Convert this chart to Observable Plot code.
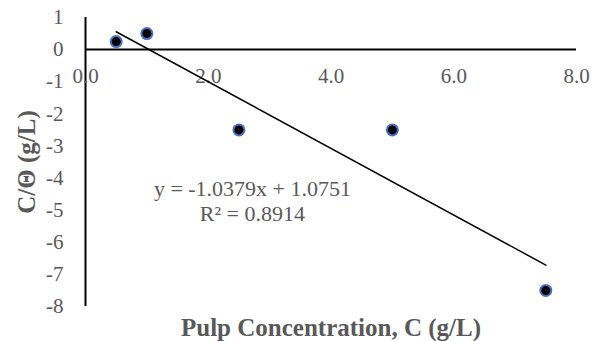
<!DOCTYPE html>
<html><head><meta charset="utf-8">
<script src="https://cdn.jsdelivr.net/npm/d3@7"></script>
<script src="https://cdn.jsdelivr.net/npm/@observablehq/plot@0.6"></script>
<style>body{margin:0;background:#fff} svg text{font-family:'Liberation Serif','Times New Roman',serif !important; font-variant:normal !important;}</style>
</head><body><div id="chart"></div>
<script>
const concentration = [0.5, 1.0, 2.5, 5.0, 7.5];
const ratio = [0.25, 0.5, -2.5, -2.5, -7.5];
const xTicks = [0, 2, 4, 6, 8];
const yTicks = [-8, -7, -6, -5, -4, -3, -2, -1, 0, 1];
const equationLines = ["y = -1.0379x + 1.0751", "R² = 0.8914"];
const xTitle = "Pulp Concentration, C (g/L)";
const yTitle = "C/Θ (g/L)";

const data = concentration.map((c, i) => ({c, r: ratio[i]}));
const font = "'Liberation Serif', 'Times New Roman', serif";
const gray = "#595959";

const chart = Plot.plot({
  width: 592, height: 341,
  marginLeft: 85, marginRight: 16, marginTop: 17, marginBottom: 35,
  style: {fontFamily: font, background: "white", overflow: "visible"},
  x: {domain: [0, 8], axis: null},
  y: {domain: [-8, 1]},
  marks: [
    Plot.ruleY([0], {stroke: "black", strokeWidth: 2}),
    Plot.ruleX([0], {stroke: "black", strokeWidth: 2}),
    Plot.axisY(yTicks, {tickSize: 0, tickPadding: 22, fontSize: 21, fontFamily: font, fill: gray, label: null, tickFormat: d => String(d)}),
    Plot.text(xTicks, {x: d => d, y: 0, dy: 27, text: d => d.toFixed(1), fontSize: 21, fontFamily: font, fill: gray}),
    Plot.linearRegressionY(data, {x: "c", y: "r", stroke: "black", strokeWidth: 1.5, ci: 0}),
    Plot.dot(data, {x: "c", y: "r", r: 5.5, fill: "black", stroke: "#4472C4", strokeWidth: 2}),
    Plot.text([equationLines.join("\n")], {x: 2.72, y: -4.7, fontSize: 22, fontFamily: font, lineHeight: 1.14, fill: gray, textAnchor: "middle"}),
    Plot.text([xTitle], {frameAnchor: "bottom", dy: 29, lineAnchor: "bottom", textAnchor: "middle", fontWeight: "bold", fontSize: 25, fontFamily: font, fill: gray}),
    Plot.text([yTitle], {frameAnchor: "left", rotate: -90, dx: -59, textAnchor: "middle", lineAnchor: "middle", fontWeight: "bold", fontSize: 25, fontFamily: font, fill: gray})
  ]
});
document.getElementById("chart").appendChild(chart);
</script>
</body></html>
